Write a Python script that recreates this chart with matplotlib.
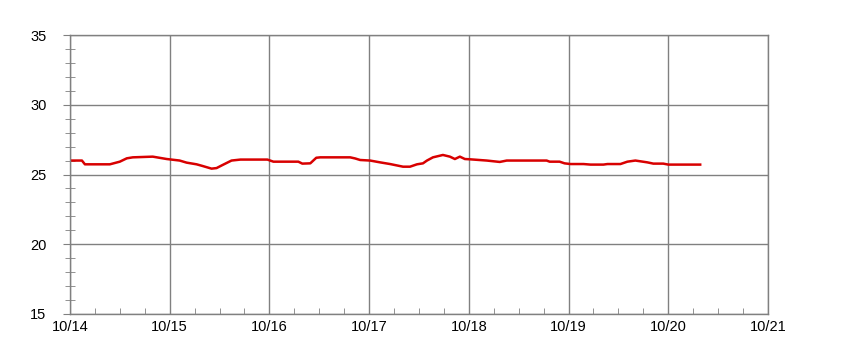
import numpy as np
import pandas as pd
import matplotlib
matplotlib.use("Agg")
import matplotlib.pyplot as plt
import matplotlib.dates as mdates

# time offsets in days after 10/14 00:00, and temperature readings
day_offset = [0.0, 0.12, 0.15, 0.40, 0.50, 0.57, 0.63, 0.83, 0.97, 1.10,
              1.17, 1.27, 1.33, 1.42, 1.47, 1.53, 1.62, 1.71, 1.98, 2.04,
              2.29, 2.33, 2.41, 2.47, 2.51, 2.81, 2.86, 2.91, 3.01, 3.11,
              3.21, 3.34, 3.41, 3.48, 3.54, 3.58, 3.64, 3.74, 3.81, 3.86,
              3.91, 3.96, 4.01, 4.18, 4.31, 4.38, 4.78, 4.81, 4.91, 4.96,
              5.02, 5.15, 5.22, 5.35, 5.39, 5.52, 5.59, 5.67, 5.79, 5.85,
              5.95, 6.00, 6.32]
temp = [26.0, 26.0, 25.73, 25.73, 25.92, 26.16, 26.23, 26.28, 26.11, 26.0,
        25.85, 25.73, 25.61, 25.42, 25.46, 25.68, 26.0, 26.07, 26.07, 25.92,
        25.92, 25.78, 25.8, 26.2, 26.23, 26.23, 26.15, 26.04, 26.0, 25.87,
        25.75, 25.56, 25.56, 25.73, 25.8, 26.0, 26.23, 26.4, 26.28, 26.11,
        26.28, 26.11, 26.09, 26.0, 25.9, 26.0, 26.0, 25.92, 25.92, 25.8,
        25.75, 25.75, 25.71, 25.71, 25.75, 25.75, 25.92, 26.0, 25.87, 25.78,
        25.78, 25.71, 25.71]

start = pd.Timestamp("2023-10-14")
end = pd.Timestamp("2023-10-21")
times = start + pd.to_timedelta(day_offset, unit="D")

plt.rcParams['font.family'] = ['Liberation Sans', 'DejaVu Sans']

fig = plt.figure(figsize=(8.68, 3.49), dpi=100)
ax = fig.add_axes([0.0806, 0.1003, 0.8042, 0.7994])

ax.plot(times, temp, color='#d80000', linewidth=1.8)

ax.set_xlim(start, end)
ax.set_ylim(15, 35)
ax.set_yticks([15, 20, 25, 30, 35])
ax.yaxis.set_minor_locator(plt.MultipleLocator(1))
ax.xaxis.set_major_locator(mdates.DayLocator())
ax.xaxis.set_major_formatter(mdates.DateFormatter('%m/%d'))
ax.xaxis.set_minor_locator(mdates.HourLocator(byhour=[6, 12, 18]))

ax.grid(True, which='major', color='#808080', linewidth=1)
for s in ax.spines.values():
    s.set_color('#808080')
    s.set_linewidth(1)

ax.tick_params(axis='y', which='major', direction='out', length=5,
               color='#808080', labelsize=10.5, pad=12)
ax.tick_params(axis='y', which='minor', direction='inout', length=7,
               color='#808080')
ax.tick_params(axis='x', which='major', direction='out', length=0,
               labelsize=10.5, pad=4)
ax.tick_params(axis='x', which='minor', direction='in', length=4,
               color='#808080')

fig.savefig('out.png', dpi=100)
